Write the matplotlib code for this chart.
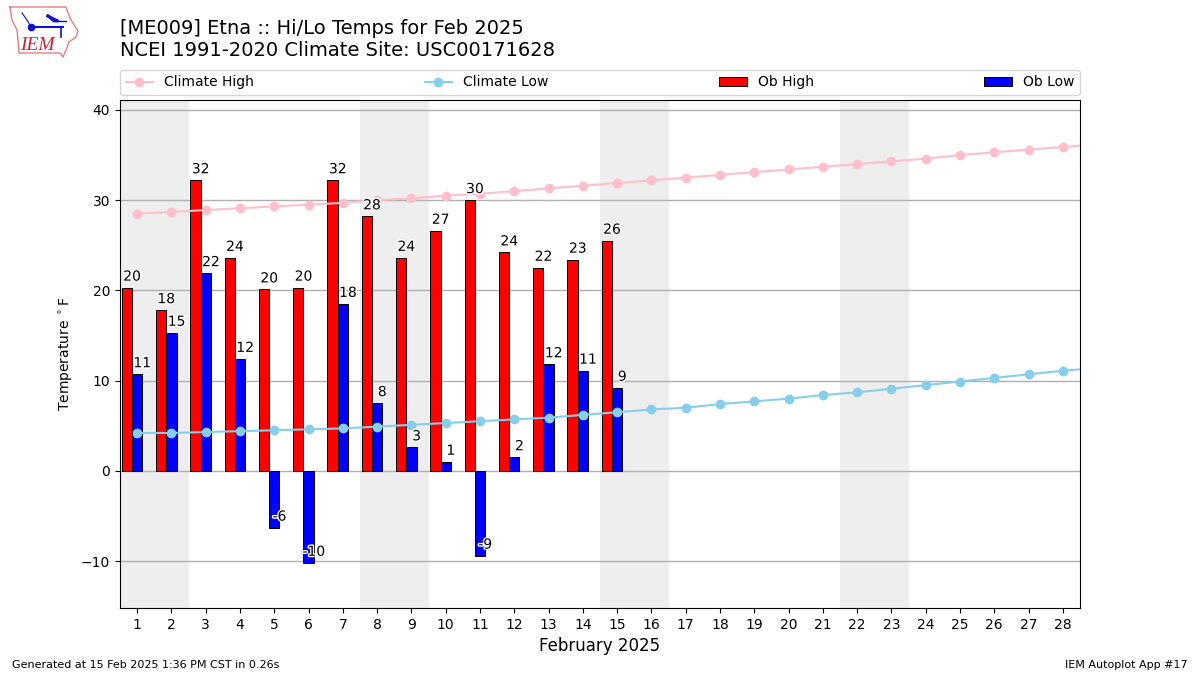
import matplotlib
matplotlib.use("Agg")
import matplotlib.pyplot as plt
import matplotlib.patheffects as PathEffects

# ── data ──
DAYS = list(range(1, 29))
OB_DAYS = list(range(1, 16))
OB_HIGH = [20.3, 17.8, 32.2, 23.6, 20.1, 20.3, 32.2, 28.2, 23.6, 26.6,
           30.0, 24.2, 22.5, 23.4, 25.5]
OB_LOW = [10.7, 15.3, 21.9, 12.4, -6.3, -10.2, 18.5, 7.5, 2.6, 1.0,
          -9.4, 1.5, 11.8, 11.1, 9.2]
HIGH_LABELS = [20, 18, 32, 24, 20, 20, 32, 28, 24, 27, 30, 24, 22, 23, 26]
LOW_LABELS = [11, 15, 22, 12, -6, -10, 18, 8, 3, 1, -9, 2, 12, 11, 9]
# one extra climatology day past the axis edge, only its stub shows
CLIM_DAYS = DAYS + [29]
CLIM_HIGH = [28.5, 28.7, 28.9, 29.1, 29.3, 29.5, 29.7, 30.0, 30.2, 30.5,
             30.7, 31.0, 31.3, 31.6, 31.9, 32.2, 32.5, 32.8, 33.1, 33.4,
             33.7, 34.0, 34.3, 34.6, 35.0, 35.3, 35.6, 35.9, 36.2]
CLIM_LOW = [4.2, 4.2, 4.3, 4.4, 4.5, 4.6, 4.7, 4.9, 5.1, 5.3,
            5.5, 5.7, 5.9, 6.2, 6.5, 6.8, 7.0, 7.4, 7.7, 8.0,
            8.4, 8.7, 9.1, 9.5, 9.9, 10.3, 10.7, 11.1, 11.4]
WEEKENDS = [(0.5, 2.5), (7.5, 9.5), (14.5, 16.5), (21.5, 23.5)]
WIDTH = 0.3

W, H = 1200, 675
fig = plt.figure(figsize=(12, 6.75), dpi=100)
ax = fig.add_axes([120 / W, 1 - 608 / H, 960 / W, 508 / H])


def draw_logo():
    # rough IEM logo, drawn in figure pixels
    lg = fig.add_axes([0, 1 - 60 / H, 85 / W, 60 / H])
    lg.set_xlim(0, 85)
    lg.set_ylim(60, 0)
    lg.axis("off")
    xs = [10, 66, 68, 71, 78, 76, 69, 66, 63, 60, 19, 18, 17, 12, 10]
    ys = [7, 7, 13, 20, 31, 37, 42, 50, 57, 53, 53, 40, 30, 20, 7]
    lg.plot(xs, ys, color="#e08080", lw=1)
    lg.plot([31, 63], [27, 27], color="#1010d0", lw=1.5)
    lg.plot([31], [27], "o", color="#1010d0", ms=4.5)
    lg.plot([48, 58, 54, 48], [16, 21, 21, 16], color="#1010d0", lw=2)
    lg.plot([57, 66], [21, 21], color="#1010d0", lw=1)
    lg.plot([61, 61], [27, 37], color="#1010d0", lw=1.2)
    lg.plot([22, 27, 31], [13, 20, 27], color="#1010d0", lw=0.8)
    lg.text(37, 45.5, "IEM", color="#d02030", fontsize=14, style="italic",
            family="Liberation Serif", ha="center", va="center")


for lo, hi in WEEKENDS:
    ax.axvspan(lo, hi, color="#EEEEEE", lw=0, zorder=0)

ax.plot(CLIM_DAYS, CLIM_HIGH, color="pink", marker="o", zorder=3,
        label="Climate High")
ax.plot(CLIM_DAYS, CLIM_LOW, color="skyblue", marker="o", zorder=3,
        label="Climate Low")
ax.bar([d - WIDTH for d in OB_DAYS], OB_HIGH, WIDTH, color="red",
       edgecolor="k", lw=0.7, zorder=2, label="Ob High")
ax.bar(OB_DAYS, OB_LOW, WIDTH, color="blue", edgecolor="k", lw=0.7, zorder=2,
       label="Ob Low")

effects = [PathEffects.withStroke(linewidth=2, foreground="white")]
for d, v, lab in zip(OB_DAYS, OB_HIGH, HIGH_LABELS):
    ax.text(d - WIDTH / 2, v + 0.45, str(lab), ha="center", va="bottom",
            fontsize=10, path_effects=effects, zorder=5)
for d, v, lab in zip(OB_DAYS, OB_LOW, LOW_LABELS):
    ax.text(d + WIDTH / 2, v + 0.45, str(lab), ha="center", va="bottom",
            fontsize=10, path_effects=effects, zorder=5)

ax.set_xlim(0.5, 28.5)
ax.set_ylim(-15.2, 41.1)
ax.set_xticks(DAYS)
ax.set_yticks([-10, 0, 10, 20, 30, 40])
ax.grid(axis="y", lw=1, zorder=1)
ax.set_axisbelow(True)
ax.set_xlabel("February 2025", fontsize=12)
ax.set_ylabel(r"Temperature $^\circ$F")
ax.legend(loc="lower left", bbox_to_anchor=(0, 1.01, 1, 0.05), ncol=4,
          mode="expand", borderaxespad=0, fontsize=10)

fig.text(120 / W, 1 - 60 / H, "[ME009] Etna :: Hi/Lo Temps for Feb 2025\n"
         "NCEI 1991-2020 Climate Site: USC00171628", fontsize=14, ha="left",
         va="bottom")
fig.text(12 / W, 1 - 670 / H, "Generated at 15 Feb 2025 1:36 PM CST in 0.26s",
         fontsize=8, ha="left", va="bottom")
fig.text(1188 / W, 1 - 670 / H, "IEM Autoplot App #17", fontsize=8, ha="right",
         va="bottom")

draw_logo()
fig.savefig("out.png", dpi=100)
